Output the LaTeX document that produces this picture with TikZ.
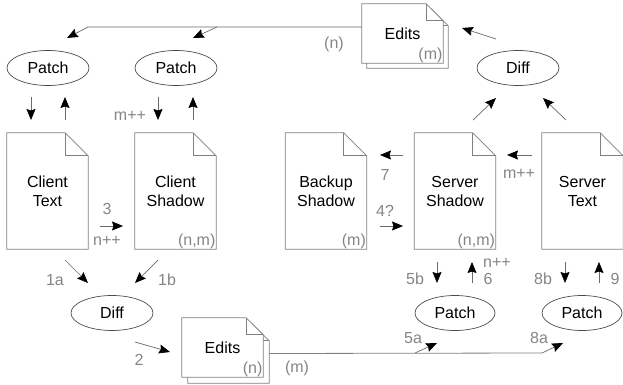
\documentclass[tikz,border=0pt]{standalone}
\usepackage{fontspec}
\setmainfont{Liberation Sans}
\usetikzlibrary{arrows.meta,shapes.geometric}
\definecolor{linegray}{HTML}{808080}
\definecolor{labgray}{HTML}{858585}
\definecolor{shaftgray}{HTML}{6A6A6A}
\tikzset{
  txt/.style={font=\fontsize{16}{19}\selectfont, align=center},
  pagebox/.style={txt, inner sep=0pt, minimum width=81pt, minimum height=116pt},
  editbox/.style={txt, inner sep=0pt, minimum width=81pt, minimum height=59pt},
  pageline/.style={draw=linegray, line width=0.8pt, fill=white},
  oval/.style={txt, ellipse, draw=black!70, line width=0.7pt, inner sep=0pt, minimum width=82pt, minimum height=35pt},
  lab/.style={font=\fontsize{16}{19}\selectfont, text=labgray, inner sep=0pt},
  corner/.style={lab, inner sep=0.6pt, anchor=south east},
  arr/.style={draw=shaftgray, line width=0.7pt, -{Stealth[length=11pt,width=9pt,inset=1.5pt,color=black,fill=black]}},
  wire/.style={draw=linegray, line width=0.8pt}
}
% name, center, text, fold, box style
\newcommand\docpage[5]{%
  \node[#5] (#1) at (#2) {};
  \draw[pageline] (#1.north west) -- ([xshift=-#4]#1.north east) -- ([yshift=-#4]#1.north east) -- (#1.south east) -- (#1.south west) -- cycle;
  \draw[pageline, fill=none] ([xshift=-#4]#1.north east) |- ([yshift=-#4]#1.north east);
  \node[#5] at (#1) {#3};
}
\begin{document}
\begin{tikzpicture}[x=1pt,y=-1pt]
\useasboundingbox (0,0) rectangle (623,385);

% main documents
\docpage{ctext}{47.5,191}{Client\\Text}{23pt}{pagebox}
\docpage{cshadow}{175.5,191}{Client\\Shadow}{23pt}{pagebox}
\docpage{bshadow}{326,191}{Backup\\Shadow}{23pt}{pagebox}
\docpage{sshadow}{455,191}{Server\\Shadow}{23pt}{pagebox}
\docpage{stext}{582.5,191}{Server\\Text}{23pt}{pagebox}

\node[corner] at (cshadow.south east) {(n,m)};
\node[corner] at (bshadow.south east) {(m)};
\node[corner] at (sshadow.south east) {(n,m)};

% edits stacks
\docpage{edTback}{407.5,38.5}{}{17pt}{editbox}
\docpage{edT}{402.5,33.5}{Edits}{17pt}{editbox}
\node[corner] at (edT.south east) {(m)};
\docpage{edBback}{228.5,353.5}{}{17pt}{editbox}
\docpage{edB}{222.5,347.5}{Edits}{17pt}{editbox}
\node[corner] at (edB.south east) {(n)};

% ellipses
\node[oval] (patch1) at (48,68) {Patch};
\node[oval] (patch2) at (176,68) {Patch};
\node[oval] (diffT) at (518,68) {Diff};
\node[oval] (diffB) at (112,313) {Diff};
\node[oval, minimum width=80pt] (patch3) at (455,313) {Patch};
\node[oval, minimum width=80pt] (patch4) at (582,313) {Patch};

% top connector from Edits to both Patch nodes
\coordinate (t1) at (88,27);
\coordinate (t2) at (217,27);
\coordinate (t1e) at (67,38);
\coordinate (t2e) at (193,38);
\draw[arr] ([yshift=6.5pt]edT.west) -- (t1) -- (t1e);
\draw[arr] (t2) -- (t2e);
\node[lab] (ln) at (334,44) {(n)};

% Diff top to Edits
\draw[arr] (496,39) -- (462,28);
\draw[arr] (473,120) -- (496,98);
\draw[arr] (566,120) -- (543,98);

% patch arrows top
\draw[arr] (31,97) -- (31,120);
\draw[arr] (65,120) -- (65,97);
\draw[arr] (158,97) -- (158,120);
\draw[arr] (193,120) -- (193,97);
\node[lab] (lm1) at (130,116) {m++};

% middle arrows
\draw[arr] (100,226) -- (123,226);
\node[lab] (l3) at (107,209) {3};
\node[lab] (ln1) at (107,241) {n++};
\draw[arr] (403,155) -- (380,155);
\node[lab] (l7) at (385,175) {7};
\draw[arr] (380,226) -- (403,226);
\node[lab] (l4) at (385,211) {4?};
\draw[arr] (532,155) -- (507,155);
\node[lab] (lm2) at (519,174) {m++};

% bottom left
\draw[arr] (65,260) -- (88,283);
\node[lab] (l1a) at (55,280) {1a};
\draw[arr] (158,260) -- (135,283);
\node[lab] (l1b) at (167,280) {1b};
\draw[arr] (135,342) -- (170,352);
\node[lab] (l2) at (139,360) {2};

% bottom connector from Edits to server patches
\coordinate (b1) at (415,353);
\coordinate (b2) at (542,353);
\draw[wire] (edBback.east) -- (b2);
\draw[arr] (b1) -- (437,343);
\draw[arr] (b2) -- (563,343);
\node[lab] (lm3) at (297,368) {(m)};
\node[lab] (l5a) at (413,338) {5a};
\node[lab] (l8a) at (539,338) {8a};

% patch arrows bottom
\draw[arr] (437,262) -- (437,283);
\draw[arr] (472,283) -- (472,262);
\draw[arr] (565,262) -- (565,283);
\draw[arr] (599,283) -- (599,262);
\node[lab] (l5b) at (415,279) {5b};
\node[lab] (l6) at (488,279) {6};
\node[lab] (ln2) at (497,263) {n++};
\node[lab] (l8b) at (543,279) {8b};
\node[lab] (l9) at (615,279) {9};
\end{tikzpicture}
\end{document}
